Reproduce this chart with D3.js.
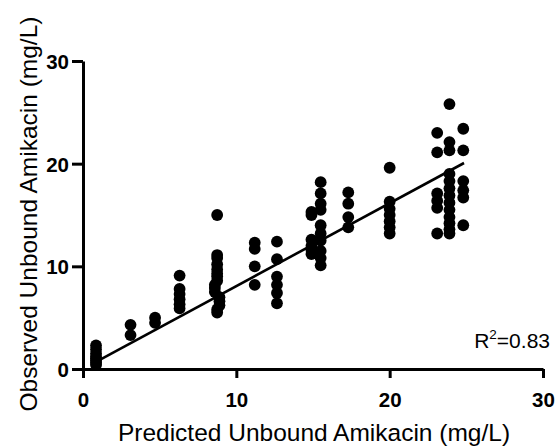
<!DOCTYPE html>
<html>
<head>
<meta charset="utf-8">
<script src="https://cdn.jsdelivr.net/npm/d3@7"></script>
<style>
  body { margin: 0; background: #fff; }
  svg { font-family: "Liberation Sans", Arial, sans-serif; }
</style>
</head>
<body>
<div id="container"></div>
<script>
let w = 557;
let h = 446;

// predicted (x) values, one per column of dots
let predicted = [
  0.85, 0.85, 0.85, 0.85, 0.85, 0.85, 0.85, 0.85,
  3.1, 3.1,
  4.7, 4.7,
  6.3, 6.3, 6.3, 6.3, 6.3, 6.3,
  8.75, 8.75, 8.75, 8.75, 8.75, 8.75, 8.75, 8.75, 8.6, 8.6, 8.6, 8.9, 8.9, 8.9, 8.75, 8.75,
  11.2, 11.2, 11.2, 11.2,
  12.65, 12.65, 12.65, 12.65, 12.65, 12.65,
  14.9, 14.9, 14.9, 14.9, 14.9, 14.9,
  15.5, 15.5, 15.5, 15.5, 15.5, 15.5, 15.5, 15.5, 15.5, 15.5,
  17.3, 17.3, 17.3, 17.3,
  20.0, 20.0, 20.0, 20.0, 20.0, 20.0, 20.0,
  23.1, 23.1, 23.1, 23.1, 23.1, 23.1,
  23.9, 23.9, 23.9, 23.9, 23.9, 23.9, 23.9, 23.9, 23.9, 23.9, 23.9, 23.9, 23.9,
  24.8, 24.8, 24.8, 24.8, 24.8, 24.8
];
// observed (y) values, same order
let observed = [
  2.3, 1.9, 1.5, 1.2, 1.0, 0.8, 0.6, 0.4,
  4.3, 3.3,
  5.0, 4.5,
  9.1, 7.8, 7.3, 6.8, 6.3, 5.9,
  15.0, 11.1, 10.8, 10.2, 9.7, 9.3, 9.0, 8.6, 8.2, 7.9, 7.5, 7.0, 6.6, 6.2, 5.8, 5.5,
  12.3, 11.7, 10.0, 8.2,
  12.4, 10.7, 9.0, 8.2, 7.4, 6.4,
  15.3, 15.0, 12.6, 12.0, 11.6, 11.2,
  18.2, 17.1, 16.1, 15.5, 14.0, 13.2, 12.5, 11.5, 10.8, 10.1,
  17.2, 16.1, 14.8, 13.8,
  19.6, 16.3, 15.6, 15.0, 14.4, 13.8, 13.2,
  23.0, 21.1, 17.1, 16.4, 15.7, 13.2,
  25.8, 22.1, 21.3, 19.0, 18.3, 17.6, 16.9, 16.2, 15.5, 14.8, 14.2, 13.6, 13.2,
  23.4, 21.3, 18.3, 17.4, 16.7, 14.0
];

// regression line
let fitSlope = 0.807;
let fitIntercept = 0.01;
let fitRange = [1.0, 24.85];
let r2Label = "0.83";

let xTicks = [0, 10, 20, 30];
let yTicks = [0, 10, 20, 30];

let viz = d3.select("#container")
  .append("svg")
    .attr("width", w)
    .attr("height", h)
    .style("background-color", "white")
;

let xScale = d3.scaleLinear().domain([0, 30]).range([83, 543]);
let yScale = d3.scaleLinear().domain([0, 30]).range([369, 61]);

// dots
let data = predicted.map(function(x, i){
  return {x: x, y: observed[i]};
});
viz.append("g").selectAll("circle").data(data).enter()
  .append("circle")
    .attr("cx", function(d){ return xScale(d.x); })
    .attr("cy", function(d){ return yScale(d.y); })
    .attr("r", 5.9)
    .attr("fill", "black")
;

// fit line
viz.append("line")
  .attr("x1", xScale(fitRange[0]))
  .attr("y1", yScale(fitSlope * fitRange[0] + fitIntercept))
  .attr("x2", xScale(fitRange[1]))
  .attr("y2", yScale(fitSlope * fitRange[1] + fitIntercept))
  .attr("stroke", "black")
  .attr("stroke-width", 2.6)
;

// axes
let xAxis = d3.axisBottom(xScale).tickValues(xTicks).tickSize(9).tickPadding(14).tickSizeOuter(0);
let xAxisGroup = viz.append("g").attr("class", "xaxis")
  .attr("transform", "translate(0," + 369 + ")")
  .call(xAxis);

let yAxis = d3.axisLeft(yScale).tickValues(yTicks).tickSize(11).tickPadding(3).tickSizeOuter(0);
let yAxisGroup = viz.append("g").attr("class", "yaxis")
  .attr("transform", "translate(" + 83 + ",0)")
  .call(yAxis);

viz.selectAll(".xaxis path, .yaxis path").attr("stroke-width", 3).attr("stroke", "black");
viz.selectAll(".tick line").attr("stroke-width", 3).attr("stroke", "black");
viz.selectAll(".tick text")
  .attr("font-family", "Liberation Sans, Arial, sans-serif")
  .attr("font-size", 20.5)
  .attr("font-weight", "bold")
  .attr("fill", "black")
;
viz.selectAll(".yaxis .tick text").attr("dy", "0.36em");

// axis titles
viz.append("text")
  .attr("x", 314)
  .attr("y", 441)
  .attr("text-anchor", "middle")
  .attr("font-size", 24.5)
  .attr("fill", "black")
  .text("Predicted Unbound Amikacin (mg/L)")
;
viz.append("text")
  .attr("transform", "translate(37," + 214 + ") rotate(-90)")
  .attr("text-anchor", "middle")
  .attr("font-size", 24.5)
  .attr("fill", "black")
  .text("Observed Unbound Amikacin (mg/L)")
;

// R squared label
let r2 = viz.append("text")
  .attr("x", 550)
  .attr("y", 348)
  .attr("text-anchor", "end")
  .attr("font-size", 21)
  .attr("fill", "black");
r2.append("tspan").text("R");
r2.append("tspan").attr("font-size", 13.5).attr("dy", -9).text("2");
r2.append("tspan").attr("dy", 9).text("=" + r2Label);
</script>
</body>
</html>
